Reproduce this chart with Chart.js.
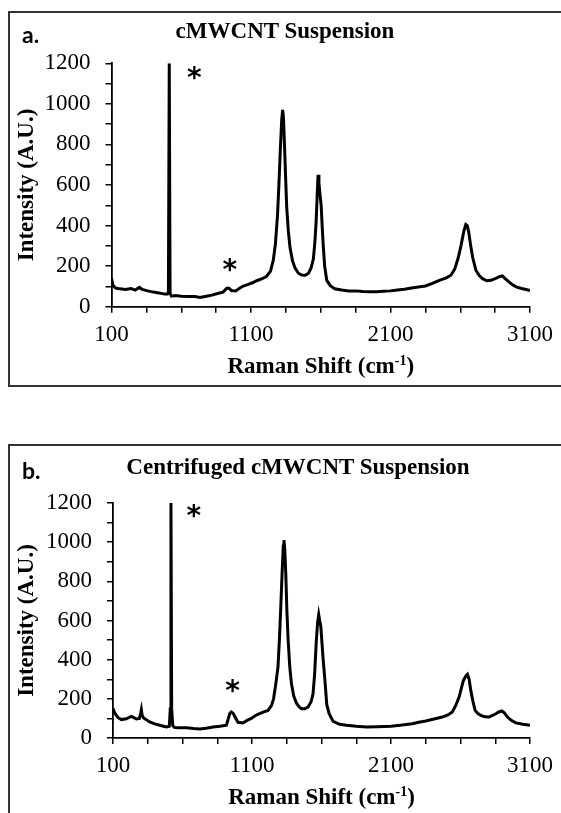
<!DOCTYPE html>
<html>
<head>
<meta charset="utf-8">
<script src="https://cdn.jsdelivr.net/npm/chart.js@4"></script>
<style>
  body { margin: 0; background: #fff; width: 561px; height: 813px; overflow: hidden; position: relative; }
  .box { position: absolute; left: 8px; width: 620px; border: 2px solid #333; }
  #boxA { top: 11px; height: 372px; }
  #boxB { top: 444px; height: 420px; }
  canvas { position: absolute; left: 9px; }
  #chartA { top: 12px; }
  #chartB { top: 446px; }
  .tag { position: absolute; left: 22px; font: bold 23px Lato, "Open Sans", sans-serif; transform: translateY(-50%); }
  .ttl { position: absolute; font: bold 23px "Liberation Serif", serif; white-space: nowrap; transform: translate(-50%, -50%); }
</style>
</head>
<body>
<div class="box" id="boxA"></div>
<div class="box" id="boxB"></div>
<canvas id="chartA" width="552" height="372"></canvas>
<canvas id="chartB" width="552" height="367"></canvas>
<div class="tag" style="top:34px">a.</div>
<div class="ttl" style="left:285px;top:31px">cMWCNT Suspension</div>
<div class="tag" style="top:470px">b.</div>
<div class="ttl" style="left:298px;top:467px">Centrifuged cMWCNT Suspension</div>
<script>
// tick positions and labels
const xTicks = [100, 350, 600, 850, 1100, 1350, 1600, 1850, 2100, 2350, 2600, 2850, 3100];
const xLabels = [100, 1100, 2100, 3100];
const yTicks = [0, 100, 200, 300, 400, 500, 600, 700, 800, 900, 1000, 1100, 1200];
const yLabels = [0, 200, 400, 600, 800, 1000, 1200];

// a. cMWCNT suspension
const shiftA = [100, 110, 130, 160, 200, 240, 270, 300, 320, 360, 400, 440, 480, 500, 508, 514, 520, 530, 560, 600,
  650, 700, 734, 780, 820, 860, 900, 925, 940, 960, 990, 1020, 1045, 1080, 1110, 1141, 1180, 1212, 1240, 1260,
  1275, 1290, 1300, 1310, 1320, 1327, 1333, 1340, 1348, 1356, 1368, 1380, 1398, 1416, 1440, 1464, 1490, 1512, 1530, 1547,
  1558, 1567, 1575, 1581, 1587, 1595, 1603, 1610, 1618, 1628, 1643, 1667, 1700, 1750, 1800, 1850, 1900, 1950, 2000, 2050,
  2100, 2150, 2200, 2250, 2300, 2350, 2400, 2450, 2500, 2533, 2560, 2585, 2605, 2625, 2640, 2650, 2660, 2675, 2690, 2712,
  2735, 2760, 2790, 2820, 2855, 2880, 2902, 2920, 2945, 2970, 3000, 3040, 3071, 3100];
const intensityA = [140, 105, 92, 88, 85, 90, 82, 95, 85, 78, 72, 68, 62, 62, 70, 1200, 65, 52, 55, 52,
  50, 50, 46, 52, 57, 65, 72, 90, 92, 80, 78, 92, 102, 110, 118, 128, 138, 150, 175, 230,
  310, 450, 600, 770, 920, 970, 930, 800, 640, 490, 370, 290, 225, 190, 165, 156, 155, 165, 190, 235,
  320, 420, 560, 650, 610, 550, 500, 400, 300, 200, 130, 105, 88, 82, 78, 78, 75, 74, 74, 76,
  78, 82, 86, 92, 97, 102, 115, 130, 142, 155, 185, 240, 300, 370, 405, 400, 370, 300, 240, 180,
  155, 138, 128, 130, 140, 148, 152, 140, 125, 110, 98, 90, 85, 80];
const starsA = [{ x: 694, y: 1150 }, { x: 948, y: 206 }];

// b. centrifuged suspension
const shiftB = [100, 115, 135, 160, 196, 232, 250, 268, 290, 300, 304, 310, 320, 364, 400, 436, 484, 505, 512, 517,
  522, 530, 544, 580, 628, 680, 724, 770, 820, 870, 916, 928, 940, 951, 965, 980, 999, 1035, 1065, 1095,
  1125, 1155, 1185, 1215, 1240, 1255, 1270, 1287, 1297, 1307, 1317, 1325, 1330, 1336, 1343, 1351, 1360, 1372, 1384, 1400,
  1419, 1440, 1455, 1480, 1503, 1525, 1539, 1550, 1563, 1572, 1580, 1587, 1595, 1600, 1612, 1624, 1638, 1655, 1684, 1730,
  1780, 1850, 1923, 2000, 2100, 2180, 2253, 2300, 2350, 2410, 2469, 2510, 2541, 2565, 2590, 2610, 2621, 2640, 2650, 2662,
  2674, 2690, 2705, 2725, 2746, 2775, 2806, 2830, 2854, 2875, 2897, 2915, 2938, 2965, 2998, 3050, 3100];
const intensityB = [150, 125, 105, 94, 98, 110, 104, 97, 100, 130, 145, 115, 102, 82, 72, 65, 56, 60, 150, 1200,
  150, 62, 53, 52, 52, 48, 46, 50, 56, 60, 65, 95, 125, 133, 125, 105, 80, 77, 90, 100,
  115, 124, 133, 141, 165, 200, 270, 363, 500, 669, 850, 980, 1010, 960, 839, 650, 499, 360, 277, 215,
  179, 158, 150, 150, 158, 185, 226, 320, 499, 590, 630, 600, 570, 520, 400, 300, 170, 124, 85, 70,
  65, 60, 56, 58, 60, 66, 73, 80, 87, 97, 107, 118, 133, 165, 209, 265, 294, 318, 325, 300,
  243, 185, 141, 125, 116, 108, 107, 115, 124, 133, 138, 128, 107, 90, 77, 70, 65];
const starsB = [{ x: 681, y: 1159 }, { x: 961, y: 263 }];

const serif = "'Liberation Serif', 'Times New Roman', serif";

// asterisks + x title with superscript
const extras = {
  id: 'extras',
  afterDraw(chart, args, opts) {
    const ctx = chart.ctx;
    const xs = chart.scales.x, ys = chart.scales.y;
    ctx.save();
    ctx.fillStyle = '#000';
    ctx.font = "bold 28px 'DejaVu Sans', sans-serif";
    ctx.textAlign = 'center';
    ctx.textBaseline = 'alphabetic';
    const m = ctx.measureText('*');
    opts.stars.forEach(s => {
      const cy = ys.getPixelForValue(s.y);
      ctx.fillText('*', xs.getPixelForValue(s.x), cy + (m.actualBoundingBoxAscent - m.actualBoundingBoxDescent) / 2);
    });

    const main = 'Raman Shift (cm', sup = '-1', end = ')';
    const f1 = 'bold 23px ' + serif, f2 = 'bold 14px ' + serif;
    ctx.textAlign = 'left';
    ctx.textBaseline = 'middle';
    ctx.font = f1;
    const w1 = ctx.measureText(main).width, w3 = ctx.measureText(end).width;
    ctx.font = f2;
    const w2 = ctx.measureText(sup).width;
    let x = (chart.chartArea.left + chart.chartArea.right) / 2 - (w1 + w2 + w3) / 2;
    const y = chart.chartArea.bottom + opts.titleGap;
    ctx.font = f1;
    ctx.fillText(main, x, y);
    x += w1;
    ctx.font = f2;
    ctx.fillText(sup, x, y - 6);
    x += w2;
    ctx.font = f1;
    ctx.fillText(end, x, y);
    ctx.restore();
  }
};

function makePanel(id, shift, intensity, stars, g) {
  const canvas = document.getElementById(id);
  const H = canvas.height, W = canvas.width;
  const points = shift.map((v, i) => ({ x: v, y: intensity[i] }));
  return new Chart(canvas, {
    type: 'line',
    data: {
      datasets: [{
        data: points,
        borderColor: '#000',
        borderWidth: 3,
        pointRadius: 0,
        tension: 0,
        fill: false
      }]
    },
    options: {
      responsive: false,
      animation: false,
      layout: { padding: { left: 0, top: g.top, right: W - g.right, bottom: 0 } },
      plugins: {
        legend: { display: false },
        tooltip: { enabled: false },
        extras: { stars: stars, titleGap: 60.5 }
      },
      scales: {
        x: {
          type: 'linear',
          min: 100,
          max: 3100,
          afterBuildTicks: s => { s.ticks = xTicks.map(v => ({ value: v })); },
          afterFit: s => { s.height = H - g.bottom; },
          ticks: {
            autoSkip: false,
            maxRotation: 0,
            padding: 8,
            color: '#000',
            font: { family: serif, size: 23 },
            callback: v => xLabels.includes(v) ? String(v) : ''
          },
          grid: { drawOnChartArea: false, tickLength: 6, color: '#000', lineWidth: 1.5 },
          border: { color: '#000', width: 1.8 }
        },
        y: {
          min: 0,
          max: 1200,
          afterBuildTicks: s => { s.ticks = yTicks.map(v => ({ value: v })); },
          afterFit: s => { s.width = g.left; },
          ticks: {
            autoSkip: false,
            padding: 15,
            color: '#000',
            font: { family: serif, size: 23 },
            callback: v => yLabels.includes(v) ? String(v) : ''
          },
          title: {
            display: true,
            text: 'Intensity (A.U.)',
            color: '#000',
            font: { family: serif, size: 23, weight: 'bold' },
            padding: { top: 4, bottom: 0 }
          },
          grid: { drawOnChartArea: false, tickLength: 6, color: '#000', lineWidth: 1.5 },
          border: { color: '#000', width: 1.8 }
        }
      }
    },
    plugins: [extras]
  });
}

makePanel('chartA', shiftA, intensityA, starsA, { left: 102.5, right: 522, top: 51.3, bottom: 294.7 });
makePanel('chartB', shiftB, intensityB, starsB, { left: 104, right: 522, top: 57, bottom: 292 });
</script>
</body>
</html>
